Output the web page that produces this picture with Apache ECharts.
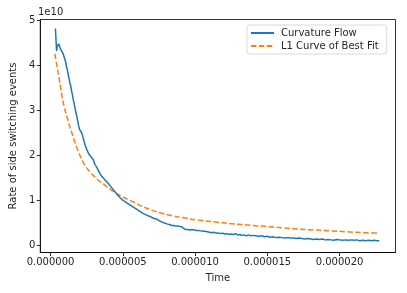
<!DOCTYPE html>
<html>
<head>
<meta charset="utf-8">
<script src="https://cdn.jsdelivr.net/npm/echarts@6/dist/echarts.min.js"></script>
<style>
html,body{margin:0;padding:0;background:#fff;}
#chart{width:407px;height:293px;}
</style>
</head>
<body>
<div id="chart"></div>
<script>
// Time in seconds (values read as microseconds, scaled by 1e-6); rate in units of 1e10
const xTickValues = [0, 5e-6, 10e-6, 15e-6, 20e-6];
const xTickLabels = ['0.000000', '0.000005', '0.000010', '0.000015', '0.000020'];
const yTickValues = [0, 1, 2, 3, 4, 5];
const yTickLabels = ['0', '1', '2', '3', '4', '5'];
const seriesNames = ['Curvature Flow', 'L1 Curve of Best Fit'];

// Curvature Flow: [time (µs), rate (1e10)]
const curvatureFlow = [
[0.34,4.81],[0.38,4.55],[0.42,4.31],[0.47,4.42],[0.52,4.40],[0.57,4.47],[0.62,4.42],[0.68,4.36],[0.74,4.38],[0.80,4.32],
[0.86,4.26],[0.92,4.24],[0.98,4.14],[1.04,4.08],[1.10,3.96],[1.16,3.90],[1.22,3.80],[1.28,3.70],[1.34,3.61],[1.40,3.53],
[1.46,3.42],[1.52,3.33],[1.58,3.22],[1.64,3.14],[1.70,3.04],[1.76,2.94],[1.82,2.86],[1.88,2.76],[1.94,2.66],[2.00,2.58],
[2.06,2.61],[2.12,2.57],[2.18,2.48],[2.24,2.40],[2.30,2.33],[2.36,2.26],[2.42,2.20],[2.48,2.15],[2.54,2.10],[2.60,2.06],
[2.66,2.02],[2.72,2.03],[2.78,1.97],[2.84,1.98],[2.90,1.95],[2.96,1.90],[3.02,1.84],[3.08,1.79],[3.14,1.75],[3.20,1.73],
[3.28,1.68],[3.36,1.63],[3.44,1.58],[3.52,1.56],[3.60,1.51],[3.70,1.48],[3.80,1.44],[3.90,1.41],[4.00,1.37],[4.10,1.33],
[4.20,1.29],[4.30,1.26],[4.40,1.21],[4.50,1.17],[4.60,1.13],[4.70,1.10],[4.80,1.06],[4.90,1.04],[5.00,1.00],[5.10,0.99],
[5.20,0.96],[5.32,0.93],[5.44,0.91],[5.56,0.88],[5.68,0.86],[5.80,0.83],[5.92,0.81],[6.04,0.78],[6.16,0.76],[6.28,0.73],
[6.40,0.71],[6.52,0.70],[6.64,0.67],[6.76,0.65],[6.88,0.64],[7.00,0.61],[7.12,0.60],[7.24,0.57],[7.36,0.58],[7.48,0.55],
[7.60,0.53],[7.72,0.52],[7.84,0.50],[7.96,0.50],[8.10,0.47],[8.24,0.46],[8.38,0.44],[8.52,0.44],[8.66,0.43],[8.80,0.43],
[8.94,0.42],[9.08,0.41],[9.20,0.37],[9.35,0.35],[9.50,0.35],[9.65,0.34],[9.80,0.35],[9.95,0.34],[10.10,0.33],[10.25,0.33],
[10.40,0.32],[10.55,0.31],[10.70,0.31],[10.85,0.30],[11.00,0.29],[11.15,0.28],[11.30,0.29],[11.45,0.27],[11.60,0.27],[11.75,0.26],
[11.90,0.27],[12.05,0.25],[12.20,0.26],[12.35,0.24],[12.50,0.25],[12.65,0.24],[12.80,0.26],[12.95,0.23],[13.10,0.24],[13.25,0.22],
[13.40,0.23],[13.55,0.21],[13.70,0.23],[13.85,0.21],[14.00,0.22],[14.20,0.21],[14.40,0.20],[14.60,0.21],[14.80,0.19],[15.00,0.20],
[15.20,0.18],[15.40,0.19],[15.60,0.17],[15.80,0.18],[16.00,0.17],[16.20,0.16],[16.40,0.17],[16.60,0.16],[16.80,0.16],[17.00,0.15],
[17.20,0.16],[17.40,0.15],[17.60,0.14],[17.80,0.15],[18.00,0.14],[18.20,0.13],[18.40,0.14],[18.60,0.13],[18.80,0.14],[19.00,0.12],
[19.20,0.13],[19.40,0.12],[19.60,0.11],[19.80,0.13],[20.00,0.12],[20.20,0.11],[20.40,0.12],[20.60,0.11],[20.80,0.12],[21.00,0.11],
[21.20,0.12],[21.40,0.10],[21.60,0.11],[21.80,0.10],[22.00,0.11],[22.20,0.10],[22.40,0.11],[22.60,0.10],[22.75,0.10]
];

// L1 Curve of Best Fit: [time (µs), rate (1e10)]
const bestFit = [
[0.30,4.25],[0.45,3.97],[0.58,3.73],[0.70,3.50],[0.80,3.30],[0.95,3.06],[1.15,2.84],[1.26,2.71],[1.45,2.52],[1.61,2.36],
[1.80,2.18],[1.95,2.06],[2.20,1.88],[2.41,1.76],[2.75,1.62],[3.09,1.51],[3.40,1.42],[3.78,1.33],[4.10,1.25],[4.47,1.17],
[4.90,1.09],[5.39,1.01],[5.80,0.95],[6.30,0.87],[7.00,0.78],[7.70,0.71],[8.36,0.66],[9.20,0.61],[10.20,0.56],[11.30,0.52],
[12.50,0.48],[13.60,0.45],[14.80,0.42],[16.00,0.39],[17.10,0.36],[18.20,0.34],[19.40,0.32],[20.50,0.30],[21.60,0.28],[22.60,0.27]
];

const toSeconds = arr => arr.map(p => [p[0] * 1e-6, p[1]]);

const chart = echarts.init(document.getElementById('chart'), null, {renderer: 'canvas'});
const font = 'DejaVu Sans';
const textColor = '#262626';

chart.setOption({
  animation: false,
  backgroundColor: '#ffffff',
  textStyle: {fontFamily: font},
  grid: {left: 38, right: 11.5, top: 19.5, bottom: 40.5, show: true, borderColor: '#000', borderWidth: 0.8, backgroundColor: 'transparent'},
  legend: {
    orient: 'vertical', left: 247, top: 25,
    padding: [3, 8, 3, 3], itemGap: 3, itemWidth: 23, itemHeight: 12,
    backgroundColor: '#fff', borderColor: '#d0d0d0', borderWidth: 0.8, borderRadius: 3,
    itemStyle: {opacity: 0, borderWidth: 0},
    textStyle: {fontFamily: font, fontSize: 10, color: textColor, padding: [0, 0, 0, 2]},
    data: seriesNames
  },
  xAxis: {
    type: 'value', min: -0.71e-6, max: 23.87e-6,
    name: 'Time', nameLocation: 'middle', nameGap: 21,
    nameTextStyle: {fontFamily: font, fontSize: 10, color: textColor},
    splitLine: {show: false},
    axisLine: {show: true, onZero: false, lineStyle: {color: '#000', width: 0.8}},
    axisTick: {show: true, length: 3.5, inside: false, customValues: xTickValues, lineStyle: {color: '#000', width: 0.8}},
    axisLabel: {customValues: xTickValues, fontFamily: font, fontSize: 10, color: textColor, margin: 5,
      formatter: v => { const i = xTickValues.findIndex(t => Math.abs(t - v) < 1e-9); return i >= 0 ? xTickLabels[i] : ''; }}
  },
  yAxis: {
    type: 'value', min: -0.16, max: 5.01,
    name: 'Rate of side switching events', nameLocation: 'middle', nameGap: 20, nameRotate: 90,
    nameTextStyle: {fontFamily: font, fontSize: 10, color: textColor},
    splitLine: {show: false},
    axisLine: {show: true, onZero: false, lineStyle: {color: '#000', width: 0.8}},
    axisTick: {show: true, length: 3.5, inside: false, customValues: yTickValues, lineStyle: {color: '#000', width: 0.8}},
    axisLabel: {customValues: yTickValues, fontFamily: font, fontSize: 10, color: textColor, margin: 5,
      formatter: v => { const i = yTickValues.findIndex(t => Math.abs(t - v) < 1e-9); return i >= 0 ? yTickLabels[i] : ''; }}
  },
  graphic: [{
    type: 'text', left: 38, top: 7,
    style: {text: '1e10', fontFamily: font, fontSize: 10, fill: textColor}
  }],
  series: [
    {name: seriesNames[0], type: 'line', data: toSeconds(curvatureFlow), showSymbol: false, symbol: 'none',
      lineStyle: {color: '#1f77b4', width: 1.5}, itemStyle: {color: 'rgba(0,0,0,0)'}, z: 3},
    {name: seriesNames[1], type: 'line', data: toSeconds(bestFit), showSymbol: false, symbol: 'none', smooth: 0.4,
      lineStyle: {color: '#ff7f0e', width: 1.5, type: [5.5, 2.4]}, itemStyle: {color: 'rgba(0,0,0,0)'}, z: 2}
  ]
});
</script>
</body>
</html>
